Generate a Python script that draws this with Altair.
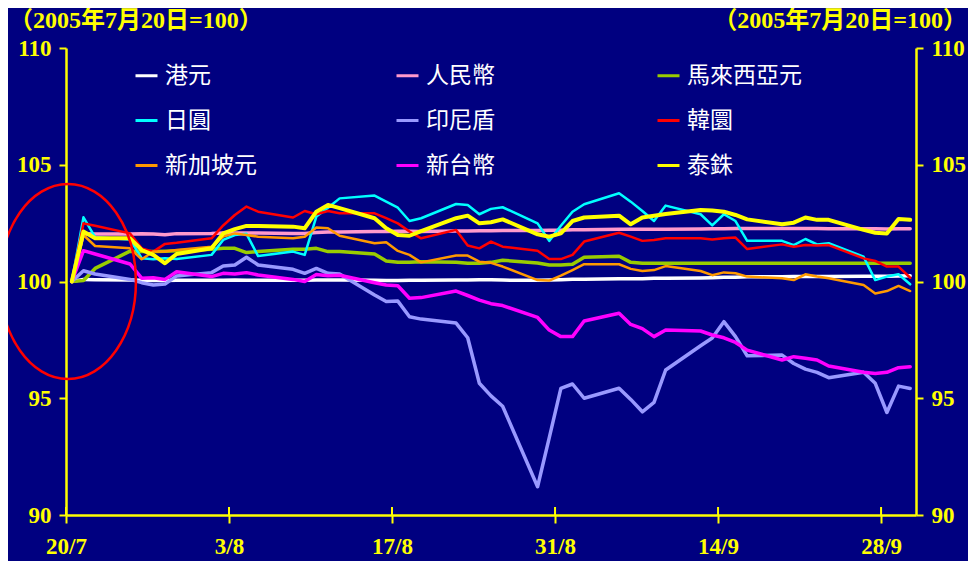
import altair as alt
import pandas as pd

# ---------------- data ----------------
dates = [
    "2005-07-20", "2005-07-21", "2005-07-22", "2005-07-25", "2005-07-26", "2005-07-27", "2005-07-28", "2005-07-29",
    "2005-08-01", "2005-08-02", "2005-08-03", "2005-08-04", "2005-08-05", "2005-08-08", "2005-08-09", "2005-08-10",
    "2005-08-11", "2005-08-12", "2005-08-15", "2005-08-16", "2005-08-17", "2005-08-18", "2005-08-19", "2005-08-22",
    "2005-08-23", "2005-08-24", "2005-08-25", "2005-08-26", "2005-08-29", "2005-08-30", "2005-08-31", "2005-09-01",
    "2005-09-02", "2005-09-05", "2005-09-06", "2005-09-07", "2005-09-08", "2005-09-09", "2005-09-12", "2005-09-13",
    "2005-09-14", "2005-09-15", "2005-09-16", "2005-09-19", "2005-09-20", "2005-09-21", "2005-09-22", "2005-09-23",
    "2005-09-26", "2005-09-27", "2005-09-28", "2005-09-29", "2005-09-30",
]

hkd = [100, 100.09, 100.08, 100.06, 100.05, 100.04, 100.04, 100.05,
       100.05, 100.05, 100.06, 100.05, 100.05, 100.05, 100.05, 100.06,
       100.06, 100.06, 100.05, 100.04, 100.04, 100.05, 100.05, 100.06,
       100.06, 100.07, 100.07, 100.06, 100.05, 100.06, 100.08, 100.10,
       100.10, 100.12, 100.12, 100.12, 100.14, 100.14, 100.15, 100.16,
       100.18, 100.18, 100.20, 100.20, 100.21, 100.21, 100.21, 100.21,
       100.22, 100.23, 100.23, 100.24, 100.25]
cny = [100, 102.05, 102.03, 102.03, 102.05, 102.03, 102.00, 102.05,
       102.06, 102.08, 102.08, 102.08, 102.08, 102.06, 102.06, 102.10,
       102.12, 102.12, 102.14, 102.14, 102.15, 102.15, 102.14, 102.16,
       102.16, 102.17, 102.17, 102.18, 102.18, 102.20, 102.20, 102.22,
       102.22, 102.24, 102.24, 102.24, 102.24, 102.24, 102.25, 102.26,
       102.26, 102.27, 102.27, 102.27, 102.27, 102.27, 102.27, 102.26,
       102.26, 102.26, 102.25, 102.26, 102.26]
myr = [100, 100.04, 100.56, 101.30, 101.28, 101.28, 101.30, 101.32,
       101.38, 101.42, 101.42, 101.24, 101.28, 101.38, 101.38, 101.42,
       101.28, 101.28, 101.18, 100.88, 100.82, 100.82, 100.85, 100.82,
       100.78, 100.78, 100.82, 100.91, 100.79, 100.71, 100.71, 100.74,
       101.04, 101.08, 100.82, 100.78, 100.78, 100.78, 100.78, 100.78,
       100.78, 100.78, 100.78, 100.78, 100.78, 100.78, 100.78, 100.78,
       100.78, 100.78, 100.78, 100.78, 100.78]
jpy = [100, 102.75, 101.90, 101.80, 101.00, 100.95, 101.00, 100.96,
       101.14, 101.78, 101.99, 102.04, 101.09, 101.28, 101.14, 102.78,
       103.16, 103.56, 103.68, 103.42, 103.16, 102.59, 102.71, 103.32,
       103.28, 102.88, 103.11, 103.18, 102.49, 101.74, 102.39, 102.99,
       103.31, 103.78, 103.42, 103.02, 102.59, 103.25, 102.88, 102.40,
       102.88, 102.59, 101.74, 101.74, 101.56, 101.82, 101.59, 101.64,
       101.06, 100.06, 100.21, 100.31, 99.88]
idr = [100, 100.46, 100.32, 100.09, 99.95, 99.85, 99.89, 100.24,
       100.38, 100.66, 100.71, 101.04, 100.71, 100.52, 100.35, 100.56,
       100.35, 100.32, 99.42, 99.14, 99.16, 98.49, 98.39, 98.22,
       97.59, 95.64, 95.10, 94.66, 91.21, 93.30, 95.42, 95.61,
       95.00, 95.43, 94.95, 94.42, 94.82, 96.21, 97.25, 97.58,
       98.28, 97.64, 96.82, 96.85, 96.49, 96.25, 96.11, 95.88,
       96.11, 95.64, 94.39, 95.52, 95.42]
krw = [100, 102.49, 102.39, 102.06, 101.42, 101.28, 101.61, 101.66,
       101.85, 102.40, 102.85, 103.21, 102.99, 102.74, 103.02, 102.88,
       103.02, 102.92, 102.92, 102.71, 102.49, 102.14, 101.85, 102.21,
       101.54, 101.42, 101.71, 101.49, 101.32, 100.96, 100.96, 101.14,
       101.71, 102.09, 101.92, 101.74, 101.78, 101.85, 101.85, 101.80,
       101.85, 101.88, 101.39, 101.59, 101.49, 101.56, 101.54, 101.56,
       100.99, 100.88, 100.64, 100.64, 100.16]
sgd = [100, 101.99, 101.52, 101.42, 100.95, 101.28, 101.28, 101.35,
       101.49, 101.92, 102.06, 101.99, 101.92, 101.85, 101.92, 102.31,
       102.28, 101.96, 101.64, 101.68, 101.31, 101.14, 100.82, 101.11,
       101.11, 100.85, 100.80, 100.64, 100.06, 100.04, 100.25, 100.49,
       100.74, 100.74, 100.54, 100.45, 100.49, 100.66, 100.45, 100.27,
       100.39, 100.35, 100.21, 100.14, 100.06, 100.31, 100.21, 100.14,
       99.85, 99.49, 99.59, 99.81, 99.59]
twd = [100, 101.32, 101.18, 100.75, 100.14, 100.16, 100.09, 100.42,
       100.21, 100.35, 100.32, 100.38, 100.28, 100.09, 100.00, 100.30,
       100.25, 100.27, 99.95, 99.85, 99.82, 99.28, 99.31, 99.59,
       99.40, 99.20, 99.05, 98.97, 98.46, 97.92, 97.64, 97.64,
       98.31, 98.64, 98.16, 97.98, 97.64, 97.92, 97.88, 97.71,
       97.59, 97.39, 97.06, 96.64, 96.78, 96.71, 96.64, 96.38,
       96.11, 96.06, 96.11, 96.31, 96.35]
thb = [100, 102.14, 101.85, 101.85, 101.35, 101.14, 100.78, 101.18,
       101.42, 102.06, 102.24, 102.38, 102.38, 102.35, 102.28, 102.99,
       103.28, 103.14, 102.71, 102.28, 101.99, 101.96, 102.16, 102.71,
       102.82, 102.49, 102.54, 102.66, 102.02, 101.92, 102.06, 102.59,
       102.74, 102.82, 102.45, 102.74, 102.82, 102.89, 103.06, 103.04,
       102.99, 102.85, 102.66, 102.45, 102.52, 102.74, 102.64, 102.64,
       102.21, 102.09, 102.06, 102.68, 102.64]

# drawing order (later = on top)
series_names = ["港元", "人民幣", "馬來西亞元", "日圓", "印尼盾", "韓圜", "新加坡元", "新台幣", "泰銖"]
series_values = [hkd, cny, myr, jpy, idr, krw, sgd, twd, thb]
series_colors = ["#FFFFFF", "#FF99CC", "#99CC00", "#00FFFF", "#9999FF", "#FF0000", "#FF9900", "#FF00FF", "#FFFF00"]
series_widths = [3.5, 3.5, 3.5, 2.5, 3.5, 2.5, 2.5, 3.5, 4]
# legend order (the legend grid fills column by column)
legend_order = ["港元", "日圓", "新加坡元", "人民幣", "印尼盾", "新台幣", "馬來西亞元", "韓圜", "泰銖"]

tick_days = [0, 14, 28, 42, 56, 70]
tick_labels = ["20/7", "3/8", "17/8", "31/8", "14/9", "28/9"]
y_ticks = [90, 95, 100, 105, 110]
base_note = "（2005年7月20日=100）"
title_text = "匯價走勢"

# ---------------- table ----------------
base = pd.Timestamp(dates[0])
rows = []
for name, vals in zip(series_names, series_values):
    for d, v in zip(dates, vals):
        rows.append({"series": name, "day": (pd.Timestamp(d) - base).days + 0.5, "value": v})
df = pd.DataFrame(rows)

color_of = dict(zip(series_names, series_colors))
legend_colors = [color_of[n] for n in legend_order]

W, H = 850, 467
YELLOW = "#FFFF00"
NUM_FONT = "Liberation Serif"

label_expr = " : ".join(
    f"datum.value == {d} ? '{l}'" for d, l in zip(tick_days, tick_labels)
) + " : ''"

x_scale = alt.Scale(domain=[0, 73], nice=False, zero=False)
y_scale = alt.Scale(domain=[90, 110], nice=False, zero=False)

x_enc = alt.X("day:Q", scale=x_scale,
              axis=alt.Axis(values=tick_days, labelExpr=label_expr, title=None, grid=False,
                            domainColor=YELLOW, domainWidth=2.5, tickColor=YELLOW, tickWidth=2,
                            tickSize=8, labelColor=YELLOW, labelFont=NUM_FONT, labelFontWeight="bold",
                            labelFontSize=23, labelPadding=12, labelFlush=False))

def y_axis(orient):
    return alt.Axis(orient=orient, values=y_ticks, title=None, grid=False,
                    domainColor=YELLOW, domainWidth=2.5, tickColor=YELLOW, tickWidth=2, tickSize=7,
                    labelColor=YELLOW, labelFont=NUM_FONT, labelFontWeight="bold", labelFontSize=23,
                    labelPadding=8, labelFlush=False)

legend = alt.Legend(orient="none", legendX=68, legendY=15, columns=3, gridAlign="all",
                    columnPadding=110, rowPadding=20, title=None, symbolType="stroke",
                    symbolSize=484, symbolStrokeWidth=3, labelColor="white",
                    labelFont="Noto Sans CJK TC", labelFontSize=23, labelOffset=6, padding=0)

color_enc = alt.Color("series:N", scale=alt.Scale(domain=legend_order, range=legend_colors), legend=legend)

line_layers = []
for name, w in zip(series_names, series_widths):
    line_layers.append(
        alt.Chart(df).transform_filter(alt.datum.series == name)
        .mark_line(strokeWidth=w, strokeJoin="round", strokeCap="round")
        .encode(x=x_enc, y=alt.Y("value:Q", scale=y_scale, axis=y_axis("left")), color=color_enc)
    )

tick_df = pd.DataFrame({"day": tick_days})
inner_ticks = alt.Chart(tick_df).mark_rule(color=YELLOW, strokeWidth=2).encode(
    x=x_enc, y=alt.value(H - 8), y2=alt.value(H)
)

ellipse = alt.Chart(pd.DataFrame({"a": [0]})).mark_point(
    shape="M -0.697 0 A 0.697 1 0 1 0 0.697 0 A 0.697 1 0 1 0 -0.697 0 Z",
    size=38025, filled=False, stroke="#FF0000", strokeWidth=2.5, opacity=1
).encode(x=alt.X(datum=0.17, type="quantitative", scale=x_scale),
         y=alt.Y(datum=100, type="quantitative", scale=y_scale))

note_df = pd.DataFrame({"t": [base_note]})
note_font = "'Liberation Serif', 'Noto Sans CJK TC'"
note_left = alt.Chart(note_df).mark_text(
    align="left", baseline="middle", color=YELLOW, fontSize=24, fontWeight="bold", font=note_font
).encode(text="t:N", x=alt.value(-57), y=alt.value(-27))
note_right = alt.Chart(note_df).mark_text(
    align="right", baseline="middle", color=YELLOW, fontSize=24, fontWeight="bold", font=note_font
).encode(text="t:N", x=alt.value(901), y=alt.value(-27))
title_mark = alt.Chart(pd.DataFrame({"t": [title_text]})).mark_text(
    align="center", baseline="bottom", color=YELLOW, fontSize=28, fontWeight="bold",
    font="'Noto Sans CJK TC'"
).encode(text="t:N", x=alt.value(457), y=alt.value(-41))

inner = alt.layer(*line_layers, inner_ticks, ellipse, note_left, note_right, title_mark)

right_axis = alt.Chart(df).mark_line(strokeOpacity=0).encode(
    x=x_enc, y=alt.Y("value:Q", scale=y_scale, axis=y_axis("right")), detail="series:N"
)

chart = alt.layer(inner, right_axis).resolve_scale(y="independent").properties(
    width=W, height=H,
    autosize=alt.AutoSizeParams(type="none"),
    padding={"left": 58, "top": 40, "right": 52, "bottom": 46},
    background="#000080",
).configure_view(stroke=None)

chart.save("out.html", embed_options={"renderer": "svg", "actions": False})
